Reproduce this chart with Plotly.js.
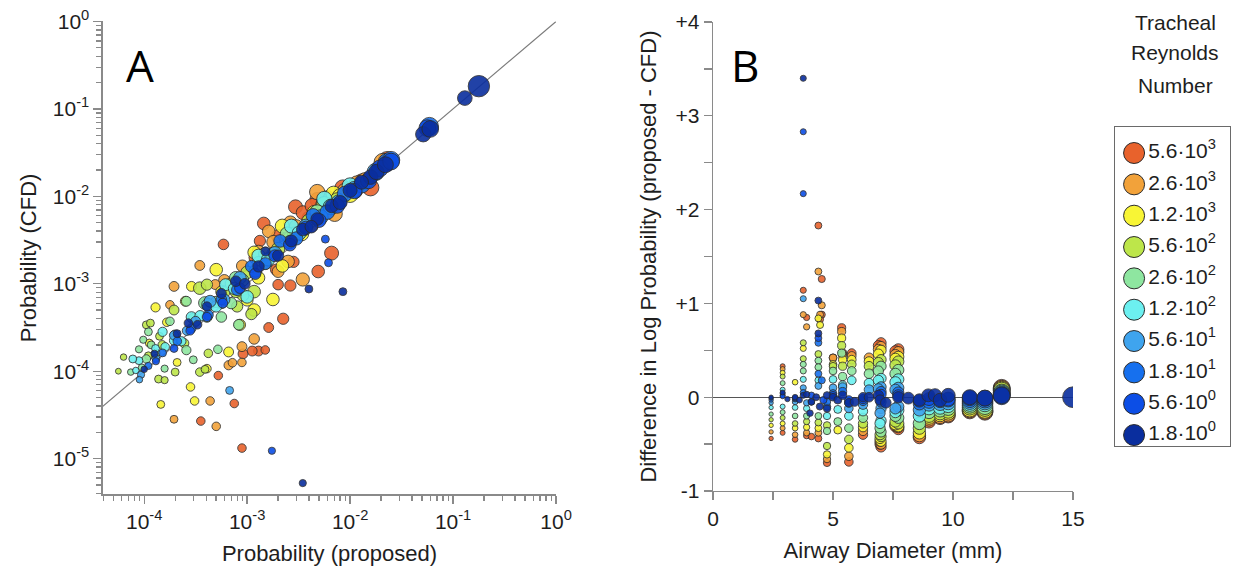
<!DOCTYPE html>
<html>
<head>
<meta charset="utf-8">
<script src="https://cdn.plot.ly/plotly-3.0.1.min.js"></script>
<style>
  html, body { margin: 0; padding: 0; background: #fff; }
  #chart { width: 1239px; height: 570px; }
</style>
</head>
<body>
<div id="chart"></div>
<script>
// Tracheal Reynolds number groups (highest first) and their colours
const reynoldsLabels = [
  '5.6·10<sup>3</sup>', '2.6·10<sup>3</sup>', '1.2·10<sup>3</sup>', '5.6·10<sup>2</sup>', '2.6·10<sup>2</sup>',
  '1.2·10<sup>2</sup>', '5.6·10<sup>1</sup>', '1.8·10<sup>1</sup>', '5.6·10<sup>0</sup>', '1.8·10<sup>0</sup>'
];
const reynoldsColors = [
  '#e8622c', '#f2a23a', '#f8f535', '#bde64a', '#8ee6a0',
  '#6cf0f0', '#3fa4ee', '#1670ee', '#0c4ee6', '#0a2e9e'
];

// Panel A: deposition probability, proposed model vs CFD (one list per Reynolds group)
const probProposed = [
  [2.95e-3, 4.79e-3, 5.62e-3, 1.10e-2, 1.58e-2, 2.29e-2, 1.45e-3, 5.89e-4, 6.61e-3, 4.90e-3, 2.82e-3, 2.24e-3, 1.62e-3, 1.29e-3, 1.12e-3, 9.12e-4, 7.50e-4, 8.91e-4, 3.55e-4, 2.63e-3, 2.00e-3, 1.91e-3, 1.33e-3, 5.25e-4, 3.98e-3, 7.94e-3,
   1.2e-3, 2.0e-3, 3.5e-3, 8.5e-3, 1.3e-2, 6.0e-3, 4.3e-3, 1.5e-3],
  [1.62e-3, 2.63e-3, 1.29e-3, 3.47e-4, 1.95e-4, 1.95e-4, 5.01e-4, 1.17e-3, 8.91e-4, 3.47e-3, 4.37e-4, 6.61e-4, 4.79e-3, 1.17e-2, 2.00e-3, 4.22e-3, 2.09e-2, 7.08e-3, 8.91e-4,
   9.0e-4, 1.8e-3, 3.0e-3, 5.5e-3, 9.0e-3, 1.4e-2, 6.0e-4, 2.5e-3, 4.9e-4, 1.78e-4, 7.2e-4, 8.9e-4],
  [5.01e-4, 1.17e-3, 1.78e-3, 1.17e-3, 6.61e-4, 2.82e-4, 3.09e-4, 1.45e-4, 1.29e-4, 3.39e-3, 1.29e-3, 4.07e-4, 2.09e-4, 6.92e-3, 5.62e-4, 2.19e-3, 8.51e-4, 2.51e-4, 1.00e-2,
   4.0e-4, 7.0e-4, 1.5e-3, 2.6e-3, 4.5e-3, 8.0e-3, 1.0e-3, 2.2e-3, 2.88e-4, 1.66e-4, 1.12e-4],
  [3.47e-4, 9.12e-4, 7.76e-4, 1.95e-4, 1.05e-4, 6.31e-5, 5.62e-5, 2.45e-4, 3.47e-4, 1.38e-4, 5.62e-4, 1.51e-3, 2.88e-3, 5.62e-3, 2.00e-4, 1.17e-3, 1.41e-4,
   3.0e-4, 6.0e-4, 1.0e-3, 2.0e-3, 4.0e-3, 7.5e-3, 1.5e-4, 8.0e-4, 1.1e-4, 4.07e-4, 1.15e-4, 1.58e-4, 1.1e-3, 4.2e-4, 3.9e-4],
  [3.89e-4, 1.05e-4, 1.17e-4, 1.10e-4, 1.78e-4, 2.57e-4, 7.41e-5, 2.57e-4, 7.76e-4, 1.29e-3, 4.07e-4, 2.45e-3, 4.79e-3, 5.62e-4, 8.91e-5,
   2.0e-4, 5.0e-4, 9.0e-4, 1.8e-3, 3.5e-3, 6.5e-3, 1.3e-4, 7.0e-4, 9.5e-5, 9.8e-5, 1.58e-4, 5.2e-4, 3.0e-4, 8.3e-4],
  [4.17e-4, 8.91e-5, 7.76e-5, 1.51e-4, 2.88e-4, 1.95e-4, 6.17e-4, 1.29e-3, 2.69e-3, 5.62e-3, 1.00e-2, 1.29e-4, 1.00e-3,
   1.6e-4, 3.5e-4, 7.5e-4, 1.6e-3, 3.2e-3, 6.5e-3, 5.0e-4, 2.3e-4, 8.3e-5],
  [9.33e-5, 6.76e-4, 1.95e-4, 4.37e-4, 8.51e-4, 1.86e-3, 3.72e-3, 7.76e-3, 1.78e-2, 3.16e-4,
   1.3e-4, 2.6e-4, 6.0e-4, 1.2e-3, 2.6e-3, 5.2e-3, 1.1e-2, 9.0e-5],
  [2.29e-2, 5.89e-2, 1.51e-4, 2.88e-4, 5.62e-4, 1.10e-3, 2.09e-3, 4.37e-3, 8.91e-3,
   1.1e-4, 2.1e-4, 4.2e-4, 8.0e-4, 1.5e-3, 3.0e-3, 6.0e-3, 1.3e-2, 2.5e-2],
  [5.62e-2, 1.95e-2, 1.95e-4, 4.07e-4, 8.51e-4, 1.86e-3, 3.72e-3, 7.50e-3, 1.51e-2, 1.74e-3, 6.17e-3, 5.75e-3,
   1.3e-4, 2.8e-4, 5.8e-4, 1.2e-3, 2.6e-3, 5.0e-3, 1.1e-2, 2.5e-2],
  [0.178, 0.130, 5.13e-2, 1.58e-2, 1.29e-2, 1.00e-2, 6.61e-3, 4.79e-3, 3.47e-3, 2.69e-3, 1.51e-3, 1.29e-3, 7.76e-4, 5.62e-4, 4.07e-4, 2.69e-4, 2.09e-4, 1.26e-4, 3.98e-3, 8.51e-3, 3.47e-3,
   1.0e-4, 3.3e-4, 9.5e-4, 2.0e-3, 4.2e-3, 8.0e-3, 1.8e-2, 2.2e-2, 6.0e-2]
];
const probCFD = [
  [7.59e-3, 9.12e-3, 8.13e-3, 1.17e-2, 1.26e-2, 2.57e-2, 4.90e-3, 2.82e-3, 2.24e-3, 1.38e-3, 1.78e-3, 3.98e-4, 3.16e-4, 1.70e-4, 1.70e-4, 1.58e-4, 4.27e-5, 1.32e-5, 2.69e-5, 9.55e-4, 9.77e-4, 1.45e-3, 3.09e-3, 8.91e-5, 5.62e-3, 1.00e-2,
   2.0e-3, 3.5e-3, 6.5e-3, 1.25e-2, 1.45e-2, 9.5e-3, 7.8e-3, 1.75e-4],
  [3.98e-3, 5.01e-3, 2.34e-3, 1.62e-3, 9.33e-4, 2.82e-5, 2.34e-5, 2.34e-4, 1.91e-4, 1.12e-3, 4.57e-5, 1.17e-4, 1.12e-2, 1.38e-2, 1.38e-3, 4.68e-3, 2.45e-2, 6.31e-3, 1.12e-3,
   1.6e-3, 3.0e-3, 4.5e-3, 8.0e-3, 1.15e-2, 1.5e-2, 1.1e-3, 1.8e-3, 9.8e-4, 5.75e-4, 1.25e-4, 1.26e-4],
  [1.45e-3, 2.29e-3, 6.61e-4, 5.01e-4, 1.66e-4, 6.61e-5, 4.57e-5, 4.17e-5, 5.37e-4, 3.72e-3, 1.17e-3, 1.07e-4, 1.26e-4, 1.07e-2, 8.13e-4, 4.57e-3, 3.39e-4, 6.31e-4, 1.05e-2,
   6.0e-4, 1.0e-3, 2.2e-3, 3.3e-3, 6.5e-3, 1.0e-2, 6.5e-4, 1.6e-3, 9.33e-4, 3.63e-4, 2.1e-4],
  [8.91e-4, 7.41e-4, 8.13e-4, 5.01e-4, 3.39e-4, 1.45e-4, 1.00e-4, 2.09e-4, 9.77e-5, 8.13e-5, 6.03e-4, 1.74e-3, 3.72e-3, 8.13e-3, 9.77e-5, 8.13e-4, 2.51e-4,
   4.0e-4, 8.0e-4, 1.35e-3, 2.5e-3, 5.2e-3, 9.0e-3, 2.0e-4, 5.5e-4, 1.5e-4, 9.77e-4, 3.55e-4, 7.9e-5, 4.5e-4, 1.6e-4, 1.05e-4],
  [6.03e-4, 1.38e-4, 2.00e-4, 2.82e-4, 3.72e-4, 6.31e-4, 9.77e-5, 1.74e-4, 1.17e-3, 1.74e-3, 4.17e-4, 3.72e-3, 6.61e-3, 4.17e-4, 1.78e-4,
   2.6e-4, 6.2e-4, 1.1e-3, 2.2e-3, 4.2e-3, 7.5e-3, 1.6e-4, 6.0e-4, 1.1e-4, 2.29e-4, 1.07e-4, 1.78e-4, 1.35e-4, 3.4e-4],
  [5.75e-4, 1.32e-4, 1.38e-4, 2.82e-4, 4.17e-4, 2.24e-4, 9.77e-4, 2.09e-3, 4.57e-3, 9.33e-3, 1.32e-2, 1.82e-4, 7.08e-4,
   1.9e-4, 4.3e-4, 8.8e-4, 1.9e-3, 3.8e-3, 7.6e-3, 5.5e-4, 2.2e-4, 1.02e-4],
  [9.12e-5, 6.03e-5, 2.57e-4, 6.31e-4, 1.17e-3, 2.24e-3, 4.57e-3, 8.51e-3, 1.91e-2, 3.72e-4,
   1.4e-4, 2.9e-4, 6.6e-4, 1.4e-3, 3.0e-3, 5.8e-3, 1.2e-2, 8.0e-5],
  [2.45e-2, 6.31e-2, 1.62e-4, 3.09e-4, 6.61e-4, 1.58e-3, 3.09e-3, 6.03e-3, 1.07e-2,
   1.15e-4, 2.2e-4, 4.4e-4, 8.5e-4, 1.7e-3, 3.3e-3, 6.6e-3, 1.35e-2, 2.6e-2],
  [6.03e-2, 2.09e-2, 1.82e-4, 4.17e-4, 8.91e-4, 2.09e-3, 4.37e-3, 7.76e-3, 1.51e-2, 1.23e-5, 1.74e-3, 3.24e-3,
   1.3e-4, 2.9e-4, 6.0e-4, 1.3e-3, 2.8e-3, 5.3e-3, 1.15e-2, 2.5e-2],
  [0.182, 0.133, 5.13e-2, 1.66e-2, 1.45e-2, 1.17e-2, 7.76e-3, 5.50e-3, 4.17e-3, 3.09e-3, 2.34e-3, 1.58e-3, 1.07e-3, 7.76e-4, 5.50e-4, 3.55e-4, 2.69e-4, 1.58e-4, 8.71e-4, 8.13e-4, 5.25e-6,
   1.05e-4, 3.4e-4, 1.0e-3, 2.1e-3, 4.5e-3, 8.5e-3, 1.9e-2, 2.3e-2, 5.9e-2]
];
// airway diameter (mm) of each panel-A point, shown as marker size
const diameterA = [
  [9, 9.5, 9.5, 11, 11, 12, 8, 6.5, 9, 8, 7, 7, 6, 6, 6, 6, 5, 5, 5, 7, 6.5, 7, 7, 5, 9, 10,
   8, 8.5, 9, 10.5, 11, 10, 9.5, 5],
  [8, 8.5, 8, 6, 6, 4.5, 5, 6.5, 6, 8.5, 5, 5.5, 10, 11, 7.5, 9, 12, 10, 7,
   7.5, 8.5, 9, 10, 10.5, 11, 7, 8, 6, 5, 5, 5],
  [8, 8, 8, 8, 6, 5, 5, 4.5, 5.5, 9, 8, 5, 4.5, 10, 7, 9, 7, 6, 10.5,
   6.5, 7.5, 8.5, 9, 9.5, 10, 7.5, 8, 6, 5, 4.5],
  [8, 7.5, 7.5, 6, 4.5, 3.5, 3, 5.5, 5, 4.5, 7, 8.5, 9, 10, 4.5, 8, 4.5,
   6.5, 7, 8, 8.5, 9.5, 10, 5, 7, 4.5, 7, 4.5, 4, 7, 5, 4.5],
  [8, 5, 4.5, 4.5, 5, 6, 3.5, 5.5, 8, 8, 6.5, 9, 9.5, 6.5, 4,
   6, 7, 8, 8.5, 9, 10, 5, 7, 4, 4, 4, 5, 4.5, 6.5],
  [8, 4.5, 4.5, 5.5, 6.5, 5.5, 7.5, 8.5, 9, 10, 10.5, 4.5, 8,
   5, 6.5, 7.5, 8.5, 9, 10, 7, 5.5, 3.5],
  [4, 4.5, 5.5, 7.5, 8, 8.5, 9, 10, 11.5, 6,
   4.5, 5.5, 7, 8, 8.5, 9.5, 10.5, 3.5],
  [12, 12, 4.5, 5.5, 6.5, 7.5, 8, 9, 10,
   4, 5, 6, 7, 7.5, 8.5, 9.5, 10.5, 11.5],
  [11, 11, 4.5, 5.5, 6.5, 7.5, 8.5, 9.5, 10.5, 4, 4.5, 4.5,
   4, 5, 6, 7, 8, 9, 10, 11],
  [14.5, 9.5, 10, 9.5, 9, 9, 8.5, 8, 8, 7.5, 5.5, 7, 6.5, 6, 5.5, 5, 4.5, 4, 4.5, 4.5, 4,
   3.5, 5, 6.5, 7, 8, 9, 10, 10.5, 11]
];

// Panel B: airway diameter (mm) and log10(proposed) - log10(CFD)
const diameterB = [
  [2.42, 2.9, 2.9, 3.42, 3.76, 3.9, 3.9, 4.1, 4.39, 4.53, 4.53, 4.46, 4.39, 4.75, 5.0, 5.36, 5.4, 5.66, 5.78, 6.25, 7.0, 7.0, 7.72, 7.72, 8.6, 9.0, 9.46, 9.8, 10.7, 11.33, 12.03, 6.89, 6.96, 7.6, 7.6],
  [2.42, 2.9, 2.9, 3.42, 3.76, 3.9, 3.9, 4.39, 4.53, 4.46, 4.39, 4.75, 5.0, 5.36, 5.4, 5.66, 5.78, 6.25, 6.5, 7.0, 7.0, 7.72, 7.72, 8.6, 9.0, 9.46, 9.8, 10.7, 11.33, 12.03, 6.89, 6.96, 7.6, 7.6],
  [2.42, 2.9, 2.9, 3.42, 3.42, 3.76, 3.9, 4.39, 4.46, 4.39, 4.75, 5.0, 5.2, 5.36, 5.4, 5.66, 5.78, 6.25, 6.5, 7.0, 7.0, 7.72, 7.72, 8.6, 9.0, 9.46, 9.8, 10.7, 11.33, 12.03, 6.89, 6.96, 7.6, 7.6],
  [2.42, 2.9, 2.9, 3.42, 3.76, 3.76, 3.9, 4.39, 4.39, 4.75, 4.75, 5.0, 5.36, 5.4, 5.66, 5.78, 6.25, 6.5, 7.0, 7.0, 7.72, 7.72, 8.6, 9.0, 9.46, 9.8, 10.7, 11.33, 12.03, 6.89, 6.96, 7.6, 7.6],
  [2.42, 2.9, 2.9, 3.42, 3.76, 3.76, 3.9, 4.39, 4.39, 4.39, 4.75, 5.0, 5.2, 5.36, 5.4, 5.66, 5.78, 6.25, 6.5, 7.0, 7.0, 7.72, 7.72, 8.6, 9.0, 9.46, 9.8, 10.7, 11.33, 12.03, 6.89, 6.96, 7.6, 7.6],
  [2.42, 2.9, 2.9, 3.42, 3.76, 3.9, 4.39, 4.75, 5.0, 5.2, 5.4, 5.66, 5.78, 6.25, 6.5, 7.0, 7.0, 7.72, 7.72, 8.6, 9.0, 9.46, 9.8, 10.7, 11.33, 12.03, 6.89, 6.96, 7.6, 7.6],
  [2.42, 2.9, 3.42, 3.76, 3.76, 3.9, 4.39, 4.75, 5.0, 5.4, 5.66, 6.25, 6.5, 7.0, 7.0, 7.72, 7.72, 8.6, 9.0, 9.46, 9.8, 10.7, 11.33, 12.03, 6.89, 6.96, 7.6, 7.6],
  [2.42, 2.9, 3.42, 3.76, 4.39, 4.53, 4.39, 4.75, 5.0, 5.4, 5.66, 6.25, 7.0, 7.0, 7.72, 8.6, 9.0, 9.46, 9.8, 10.7, 11.33, 12.03, 4.1],
  [3.76, 3.76, 4.39, 2.42, 2.9, 3.42, 4.1, 4.6, 5.0, 5.66, 6.25, 7.0, 7.72, 8.6, 9.0, 9.8, 10.7, 11.33, 12.03],
  [2.42, 2.9, 3.1, 3.42, 3.6, 3.76, 3.9, 4.1, 4.3, 4.39, 4.39, 4.45, 4.75, 4.75, 5.0, 5.2, 5.4, 5.66, 5.9, 6.25, 6.5, 6.89, 6.96, 7.2, 7.72, 8.14, 8.6, 8.97, 9.25, 9.46, 9.8, 10.7, 11.33, 12.03, 15.0, 3.76, 4.04]
];
const logDiff = [
  [-0.44, 0.33, -0.38, -0.45, 1.14, 0.85, -0.41, -0.42, 1.83, 1.26, 0.88, 0.83, -0.44, -0.70, 0.42, 0.74, 0.47, -0.69, 0.47, -0.40, 0.58, -0.53, 0.51, -0.34, -0.43, -0.26, -0.22, -0.20, -0.15, -0.16, 0.10, 0.55, -0.50, 0.49, -0.31],
  [-0.37, 0.30, -0.33, -0.40, 0.88, 0.75, -0.38, 1.34, 0.98, 0.88, -0.38, -0.66, 0.42, 0.70, 0.45, -0.63, 0.44, -0.36, 0.42, 0.54, -0.50, 0.48, -0.32, -0.41, -0.24, -0.21, -0.19, -0.14, -0.15, 0.09, 0.51, -0.47, 0.45, -0.30],
  [-0.30, 0.26, -0.28, -0.33, 0.16, 0.52, -0.32, 0.84, 0.77, -0.33, -0.61, 0.35, -0.35, 0.63, 0.40, -0.54, 0.40, -0.32, 0.38, 0.50, -0.47, 0.43, -0.31, -0.38, -0.22, -0.19, -0.17, -0.13, -0.14, 0.08, 0.46, -0.44, 0.41, -0.29],
  [-0.24, 0.22, -0.22, -0.28, 0.58, 0.41, -0.26, 0.46, -0.27, -0.52, -0.30, 0.33, 0.55, 0.33, -0.45, 0.35, -0.28, 0.33, 0.40, -0.42, 0.38, -0.28, -0.33, -0.20, -0.17, -0.15, -0.11, -0.12, 0.07, 0.37, -0.40, 0.34, -0.26],
  [-0.18, 0.15, -0.16, -0.20, 0.35, 0.28, -0.20, 0.39, 0.32, -0.20, -0.36, 0.28, -0.26, 0.47, 0.22, -0.33, 0.28, -0.22, 0.25, 0.33, -0.37, 0.29, -0.22, -0.28, -0.16, -0.14, -0.12, -0.09, -0.10, 0.05, 0.28, -0.33, 0.25, -0.20],
  [-0.11, 0.08, -0.10, -0.11, 0.19, -0.12, 0.18, -0.20, 0.19, -0.13, 0.13, -0.20, 0.18, -0.15, 0.15, 0.20, -0.25, 0.19, -0.14, -0.20, -0.12, -0.11, -0.09, -0.07, -0.07, 0.04, 0.18, -0.28, 0.16, -0.16],
  [-0.06, 0.04, -0.05, 1.05, 0.10, -0.06, 0.12, -0.10, 0.10, 0.11, -0.12, -0.08, 0.08, 0.11, -0.12, 0.10, -0.10, -0.135, -0.08, -0.07, -0.06, -0.05, -0.05, 0.03, 0.09, -0.17, 0.08, -0.12],
  [-0.03, 0.02, -0.02, 0.05, 0.25, 0.18, 0.58, -0.05, 0.04, 0.06, -0.06, -0.04, 0.06, -0.05, 0.05, -0.07, -0.05, -0.04, -0.03, -0.03, -0.03, 0.02, -0.05],
  [2.83, 2.17, 0.63, -0.01, 0.01, -0.01, 0.02, -0.03, 0.02, -0.03, -0.02, 0.03, 0.02, -0.04, -0.02, -0.02, -0.01, -0.01, 0.01],
  [0.0, 0.05, -0.02, 0.0, -0.03, 0.02, 0.03, -0.05, 0.0, 1.03, 0.68, -0.10, -0.12, 0.02, 0.0, -0.03, 0.02, -0.06, -0.05, 0.0, 0.0, 0.02, -0.03, -0.06, 0.0, -0.01, -0.03, 0.02, 0.02, -0.03, 0.02, 0.0, -0.01, 0.02, 0.0, 3.40, -0.17]
];

// Tick labels
const decadeTicks = [1e-5, 1e-4, 1e-3, 1e-2, 1e-1, 1];
const decadeText = ['10<sup>-5</sup>', '10<sup>-4</sup>', '10<sup>-3</sup>', '10<sup>-2</sup>', '10<sup>-1</sup>', '10<sup>0</sup>'];
const diffTicks = [-1, 0, 1, 2, 3, 4];
const diffText = ['-1', '0', '+1', '+2', '+3', '+4'];
const diameterTicks = [0, 5, 10, 15];
const identityLine = [1e-6, 1];

// marker diameter in px grows with airway diameter
const markerPxA = d => 1.35 * d + 1.8;
const markerPxB = d => 1.3 * d + 1.2;

// minor tick positions 2..9 within every decade of the log axes
const logMinor = [];
for (let n = -6; n < 0; n++) {
  for (let k = 2; k <= 9; k++) logMinor.push(k * Math.pow(10, n));
}

const axisGrey = '#8a8a8a';
const tickFont = { size: 21, color: '#1e1e1e' };
const titleFont = { size: 22, color: '#1e1e1e' };
const outline = { color: '#2a2a2a', width: 0.9 };

const traces = [];
traces.push({
  x: identityLine, y: identityLine, xaxis: 'x', yaxis: 'y',
  mode: 'lines', line: { color: '#7a7a7a', width: 1.1 }, hoverinfo: 'skip'
});
reynoldsColors.forEach((c, i) => {
  traces.push({
    x: probProposed[i], y: probCFD[i], xaxis: 'x', yaxis: 'y',
    mode: 'markers', name: reynoldsLabels[i],
    marker: { color: c, size: diameterA[i].map(markerPxA), opacity: 0.9, line: outline }
  });
});
reynoldsColors.forEach((c, i) => {
  traces.push({
    x: diameterB[i], y: logDiff[i], xaxis: 'x2', yaxis: 'y2',
    mode: 'markers', name: reynoldsLabels[i],
    marker: { color: c, size: diameterB[i].map(markerPxB), opacity: 0.9, line: outline }
  });
});
// key: one marker per Reynolds group, stacked top to bottom
const keyRows = reynoldsLabels.map((_, i) => reynoldsLabels.length - 1 - i);
traces.push({
  x: reynoldsLabels.map(() => 19), y: keyRows, xaxis: 'x3', yaxis: 'y3',
  mode: 'markers+text', text: reynoldsLabels, textposition: 'middle right',
  textfont: { size: 21, color: '#1e1e1e' },
  marker: { color: reynoldsColors, size: 21, line: { color: '#2a2a2a', width: 1 } },
  hoverinfo: 'skip', cliponaxis: false
});

const baseAxis = {
  showline: true, linecolor: axisGrey, linewidth: 1.5,
  ticks: 'outside', ticklen: 8, tickwidth: 1.3, tickcolor: axisGrey,
  showgrid: false, zeroline: false, tickfont: tickFont
};

const layout = {
  width: 1239, height: 570,
  margin: { l: 0, r: 0, t: 0, b: 0 },
  paper_bgcolor: '#ffffff', plot_bgcolor: '#ffffff',
  showlegend: false,
  font: { family: 'Liberation Sans, Arial, sans-serif', color: '#1e1e1e' },
  xaxis: Object.assign({}, baseAxis, {
    type: 'log', domain: [0.0831, 0.4488], range: [-4.4, 0], anchor: 'y',
    tickmode: 'array', tickvals: decadeTicks, ticktext: decadeText,
    minor: { tickmode: 'array', tickvals: logMinor, ticks: 'outside', ticklen: 5, tickcolor: axisGrey, showgrid: false },
    title: { text: 'Probability (proposed)', font: titleFont, standoff: 13 }
  }),
  yaxis: Object.assign({}, baseAxis, {
    type: 'log', domain: [0.1325, 0.9623], range: [-5.41, 0], anchor: 'x',
    tickmode: 'array', tickvals: decadeTicks, ticktext: decadeText,
    minor: { tickmode: 'array', tickvals: logMinor, ticks: 'outside', ticklen: 5, tickcolor: axisGrey, showgrid: false },
    title: { text: 'Probability (CFD)', font: titleFont, standoff: 10 }
  }),
  xaxis2: Object.assign({}, baseAxis, {
    domain: [0.5755, 0.8660], range: [0, 15], anchor: 'y2',
    tickmode: 'array', tickvals: diameterTicks,
    minor: { tick0: 0, dtick: 2.5, ticks: 'outside', ticklen: 8, tickcolor: axisGrey, showgrid: false },
    title: { text: 'Airway Diameter (mm)', font: titleFont, standoff: 14 }
  }),
  yaxis2: Object.assign({}, baseAxis, {
    domain: [0.1386, 0.9614], range: [-1, 4], anchor: 'x2',
    tickmode: 'array', tickvals: diffTicks, ticktext: diffText,
    zeroline: true, zerolinecolor: '#555555', zerolinewidth: 1,
    minor: { tick0: 0, dtick: 0.5, ticks: 'outside', ticklen: 8, tickcolor: axisGrey, showgrid: false },
    title: { text: 'Difference in Log Probability (proposed - CFD)', font: titleFont, standoff: 12 }
  }),
  xaxis3: {
    domain: [0.9000, 0.9927], range: [0, 115], anchor: 'y3', fixedrange: true,
    showline: true, mirror: true, linecolor: '#6a6a6a', linewidth: 1.2,
    showticklabels: false, ticks: '', showgrid: false, zeroline: false
  },
  yaxis3: {
    domain: [0.2175, 0.7772], range: [-0.35, 9.83], anchor: 'x3', fixedrange: true,
    showline: true, mirror: true, linecolor: '#6a6a6a', linewidth: 1.2,
    showticklabels: false, ticks: '', showgrid: false, zeroline: false
  },
  annotations: [
    { text: 'A', xref: 'paper', yref: 'paper', x: 140 / 1239, y: 1 - 65 / 570, showarrow: false,
      xanchor: 'center', yanchor: 'middle', font: { size: 44, color: '#000', family: 'Open Sans, sans-serif' } },
    { text: 'B', xref: 'paper', yref: 'paper', x: 745 / 1239, y: 1 - 65 / 570, showarrow: false,
      xanchor: 'center', yanchor: 'middle', font: { size: 44, color: '#000', family: 'Open Sans, sans-serif' } },
    { text: 'Tracheal', xref: 'paper', yref: 'paper', x: 1175 / 1239, y: 1 - 22 / 570, showarrow: false,
      xanchor: 'center', yanchor: 'middle', font: { size: 21 } },
    { text: 'Reynolds', xref: 'paper', yref: 'paper', x: 1175 / 1239, y: 1 - 53 / 570, showarrow: false,
      xanchor: 'center', yanchor: 'middle', font: { size: 21 } },
    { text: 'Number', xref: 'paper', yref: 'paper', x: 1175 / 1239, y: 1 - 85 / 570, showarrow: false,
      xanchor: 'center', yanchor: 'middle', font: { size: 21 } }
  ]
};

Plotly.newPlot('chart', traces, layout, { staticPlot: true, displayModeBar: false });
</script>
</body>
</html>
